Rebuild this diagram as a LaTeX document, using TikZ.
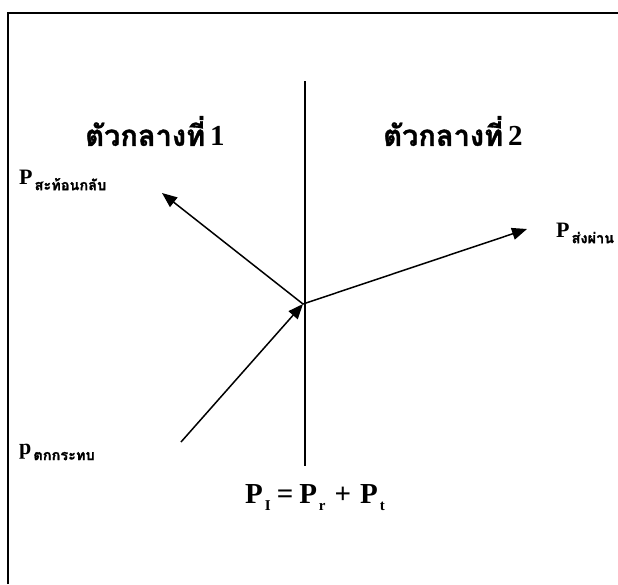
\documentclass[tikz,border=0pt]{standalone}
\usepackage{fontspec}
\setmainfont{Liberation Serif}
\newfontfamily\thaifont[Script=Thai,FakeBold=1.2]{Loma}
\usetikzlibrary{arrows.meta}
\tikzset{
  frame/.style={line width=2pt},
  boundary/.style={line width=1.4pt},
  ray/.style={line width=1.5pt},
  rayarrow/.style={ray,-{Triangle[length=15pt,width=12pt]}},
  mediumlbl/.style={inner sep=0pt,font=\bfseries},
  plabel/.style={inner sep=0pt,anchor=west,font=\bfseries}
}
\newcommand{\medium}[1]{{\thaifont\fontsize{29}{29}\selectfont ตัวกลางที่}\hspace{5pt}{\fontsize{29}{29}\selectfont #1}}
\newcommand{\thsub}[1]{\hspace{2pt}\raisebox{-6pt}{\thaifont\fontsize{14.5}{14.5}\selectfont #1}}
\newcommand{\lsub}[1]{\hspace{2pt}\raisebox{-7pt}{\fontsize{15}{15}\selectfont #1}}
\begin{document}
\begin{tikzpicture}[x=1pt,y=-1pt]
\useasboundingbox (0,0) rectangle (618,584);
% frame
\coordinate (fb) at (8,584);
\coordinate (ftl) at (8,13);
\coordinate (ftr) at (618,13);
\draw[frame] (fb) -- (ftl) -- (ftr);
% boundary between media
\coordinate (btop) at (305,81);
\coordinate (bbot) at (305,466);
\draw[boundary] (btop) -- (bbot);
% rays
\coordinate (O) at (303,304);
\coordinate (inc) at (181,442);
\coordinate (refl) at (162,193);
\coordinate (trans) at (527,229);
\draw[rayarrow] (inc) -- (O);
\draw[rayarrow] (O) -- (refl);
\draw[rayarrow] (O) -- (trans);
% medium labels
\node[mediumlbl] (m1) at (155,131) {\medium{1}};
\node[mediumlbl] (m2) at (453,131) {\medium{2}};
% ray labels
\node[plabel] (lr) at (19,180) {\fontsize{22}{22}\selectfont P\thsub{สะท้อนกลับ}};
\node[plabel] (lt) at (556,233) {\fontsize{22}{22}\selectfont P\thsub{ส่งผ่าน}};
\node[plabel] (li) at (19,452) {\fontsize{22}{22}\selectfont p\thsub{ตกกระทบ}};
% equation
\node[plabel] (eq) at (245,498) {\fontsize{29}{29}\selectfont P\lsub{I}\hspace{6pt}=\hspace{6pt}P\lsub{r}\hspace{9pt}+\hspace{9pt}P\lsub{t}};
\end{tikzpicture}
\end{document}
